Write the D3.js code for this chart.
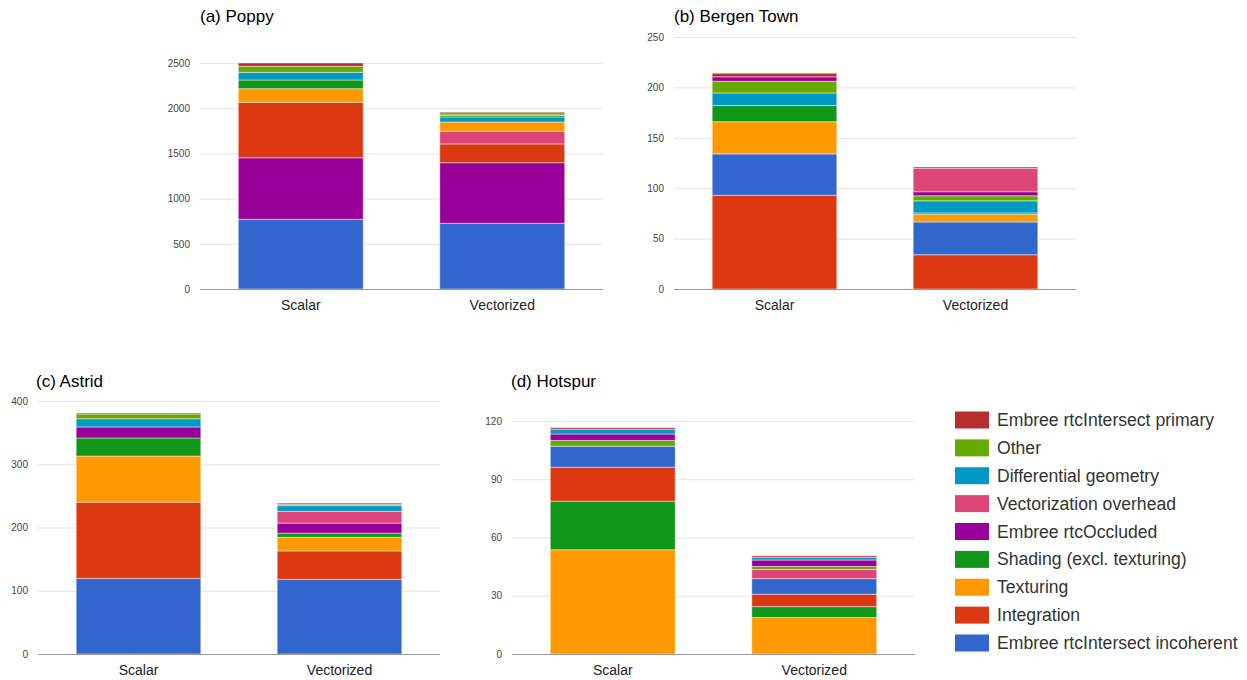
<!DOCTYPE html>
<html>
<head>
<meta charset="utf-8">
<script src="https://cdn.jsdelivr.net/npm/d3@7"></script>
<style>
  html, body { margin: 0; padding: 0; background: #fff; }
  svg { display: block; font-family: "Liberation Sans", Arial, sans-serif; }
</style>
</head>
<body>
<svg id="chart" width="1247" height="680"></svg>
<script>
// Series (legend order, top to bottom)
const seriesKeys = ["primary", "other", "diffgeom", "vecoverhead", "occluded", "shading", "texturing", "integration", "incoherent"];
const seriesNames = [
  "Embree rtcIntersect primary",
  "Other",
  "Differential geometry",
  "Vectorization overhead",
  "Embree rtcOccluded",
  "Shading (excl. texturing)",
  "Texturing",
  "Integration",
  "Embree rtcIntersect incoherent"
];
const seriesColors = ["#b82e2e", "#66aa00", "#0099c6", "#dd4477", "#990099", "#109618", "#ff9900", "#dc3912", "#3366cc"];

const categories = ["Scalar", "Vectorized"];

// (a) Poppy — stack order bottom to top, with values
const poppyScalarOrder = ["incoherent", "occluded", "integration", "texturing", "shading", "diffgeom", "other", "primary"];
const poppyScalarValues = [771, 681, 613, 151, 96, 85, 66, 37];
const poppyVectorOrder = ["incoherent", "occluded", "integration", "vecoverhead", "texturing", "diffgeom", "shading", "other", "primary"];
const poppyVectorValues = [727, 670, 208, 139, 103, 56, 17, 17, 18];
const poppyTicks = [0, 500, 1000, 1500, 2000, 2500];

// (b) Bergen Town
const bergenScalarOrder = ["integration", "incoherent", "texturing", "shading", "diffgeom", "other", "occluded", "primary"];
const bergenScalarValues = [93, 41, 32, 16, 12.5, 11.5, 4.5, 3.5];
const bergenVectorOrder = ["integration", "incoherent", "texturing", "shading", "diffgeom", "other", "occluded", "vecoverhead", "primary"];
const bergenVectorValues = [34, 32.5, 7.5, 1.5, 12, 5, 4, 23, 1.5];
const bergenTicks = [0, 50, 100, 150, 200, 250];

// (c) Astrid
const astridScalarOrder = ["incoherent", "integration", "texturing", "shading", "occluded", "diffgeom", "other", "primary"];
const astridScalarValues = [119.5, 120.5, 73, 28.5, 17.5, 13, 7.5, 1.5];
const astridVectorOrder = ["incoherent", "integration", "texturing", "shading", "occluded", "vecoverhead", "diffgeom", "other", "primary"];
const astridVectorValues = [118, 45, 21.5, 6.5, 16, 18.5, 9, 2, 2];
const astridTicks = [0, 100, 200, 300, 400];

// (d) Hotspur
const hotspurScalarOrder = ["texturing", "shading", "integration", "incoherent", "other", "occluded", "diffgeom", "primary"];
const hotspurScalarValues = [53.7, 25, 17.5, 10.8, 3, 3.3, 2.5, 0.8];
const hotspurVectorOrder = ["texturing", "shading", "integration", "incoherent", "vecoverhead", "other", "occluded", "diffgeom", "primary"];
const hotspurVectorValues = [18.8, 5.6, 6.4, 8, 4.7, 1.6, 3.3, 1.4, 0.8];
const hotspurTicks = [0, 30, 60, 90, 120];

const panels = [
  { title: "(a) Poppy", titleX: 200, titleY: 22, left: 200, right: 603, top: 63, bottom: 289, ticks: poppyTicks,
    bars: [[poppyScalarOrder, poppyScalarValues], [poppyVectorOrder, poppyVectorValues]] },
  { title: "(b) Bergen Town", titleX: 674, titleY: 22, left: 674, right: 1076, top: 37, bottom: 289, ticks: bergenTicks,
    bars: [[bergenScalarOrder, bergenScalarValues], [bergenVectorOrder, bergenVectorValues]] },
  { title: "(c) Astrid", titleX: 36, titleY: 387, left: 38, right: 440, top: 401, bottom: 654, ticks: astridTicks,
    bars: [[astridScalarOrder, astridScalarValues], [astridVectorOrder, astridVectorValues]] },
  { title: "(d) Hotspur", titleX: 511, titleY: 387, left: 512, right: 915, top: 421, bottom: 654, ticks: hotspurTicks,
    bars: [[hotspurScalarOrder, hotspurScalarValues], [hotspurVectorOrder, hotspurVectorValues]] }
];

const colorOf = d3.scaleOrdinal().domain(seriesKeys).range(seriesColors);
const svg = d3.select("#chart");

panels.forEach(p => {
  const g = svg.append("g");
  const yMax = d3.max(p.ticks);
  const y = d3.scaleLinear().domain([0, yMax]).range([p.bottom, p.top]);
  const x = d3.scaleBand().domain(categories).range([p.left, p.right])
    .paddingInner(0.38).paddingOuter(0.19);

  // gridlines + tick labels
  const axis = g.append("g")
    .attr("transform", `translate(${p.left},0)`)
    .call(d3.axisLeft(y).tickValues(p.ticks).tickSize(-(p.right - p.left)).tickPadding(10).tickFormat(d3.format("d")));
  axis.select(".domain").remove();
  axis.selectAll(".tick line").attr("stroke", "#e3e3e3").attr("stroke-width", 1);
  axis.selectAll(".tick text").attr("fill", "#444").attr("font-size", 10)
    .attr("font-family", "'Liberation Sans', Arial, sans-serif");

  // stacked bars
  p.bars.forEach(([order, values], i) => {
    const ends = d3.cumsum(values);
    const segs = order.map((k, j) => ({ key: k, y0: ends[j] - values[j], y1: ends[j] }));
    g.append("g").selectAll("rect").data(segs).join("rect")
      .attr("x", x(categories[i]))
      .attr("width", x.bandwidth())
      .attr("y", d => y(d.y1))
      .attr("height", d => y(d.y0) - y(d.y1))
      .attr("fill", d => colorOf(d.key))
      .attr("stroke", "#ffffff")
      .attr("stroke-opacity", 0.45)
      .attr("stroke-width", 1);
  });

  // baseline
  g.append("line")
    .attr("x1", p.left).attr("x2", p.right)
    .attr("y1", y(0) + 0.5).attr("y2", y(0) + 0.5)
    .attr("stroke", "#999").attr("stroke-width", 1);

  // category labels
  g.selectAll(".cat").data(categories).join("text")
    .attr("x", d => x(d) + x.bandwidth() / 2)
    .attr("y", p.bottom + 21)
    .attr("text-anchor", "middle")
    .attr("font-size", 14)
    .attr("fill", "#222")
    .text(d => d);

  // panel title
  g.append("text")
    .attr("x", p.titleX)
    .attr("y", p.titleY)
    .attr("font-size", 17)
    .attr("fill", "#000")
    .text(p.title);
});

// legend
const legend = svg.append("g").attr("transform", "translate(955,420)");
const rowY = d3.scalePoint().domain(seriesKeys).range([0, 223]);
const rows = legend.selectAll("g").data(seriesKeys).join("g")
  .attr("transform", d => `translate(0,${rowY(d)})`);
rows.append("rect")
  .attr("x", 0).attr("y", -8.5).attr("width", 34).attr("height", 17)
  .attr("fill", d => colorOf(d));
rows.append("text")
  .attr("x", 42).attr("y", 6)
  .attr("font-size", 17.6)
  .attr("fill", "#333")
  .text((d, i) => seriesNames[i]);
</script>
</body>
</html>
